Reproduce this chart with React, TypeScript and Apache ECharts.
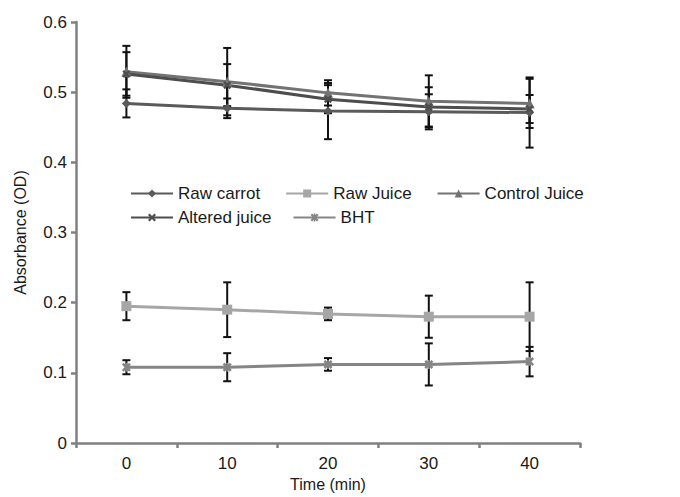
import React, { useEffect, useRef } from "react";
import * as echarts from "echarts";

const categories = ["0", "10", "20", "30", "40"];
const seriesNames = ["Raw carrot", "Raw Juice", "Control Juice", "Altered juice", "BHT"];
const rawCarrot = [0.484, 0.477, 0.473, 0.472, 0.471];
const rawJuice = [0.195, 0.19, 0.184, 0.18, 0.18];
const controlJuice = [0.529, 0.515, 0.499, 0.487, 0.484];
const alteredJuice = [0.526, 0.51, 0.49, 0.479, 0.476];
const bht = [0.108, 0.108, 0.112, 0.112, 0.116];
const rawCarrotErr = [0.02, 0.014, 0.04, 0.025, 0.05];
const rawJuiceErr = [0.02, 0.039, 0.009, 0.03, 0.049];
const controlJuiceErr = [0.037, 0.048, 0.018, 0.037, 0.035];
const alteredJuiceErr = [0.031, 0.03, 0.02, 0.028, 0.02];
const bhtErr = [0.01, 0.02, 0.009, 0.03, 0.021];
const yTicks = { min: 0, max: 0.6, interval: 0.1 };

const colors = ["#5a5a5a", "#a6a6a6", "#737373", "#4d4d4d", "#858585"];
const symbols = [
  "diamond",
  "rect",
  "triangle",
  "path://M2,0L5,3L8,0L10,2L7,5L10,8L8,10L5,7L2,10L0,8L3,5L0,2Z",
  "path://M2,0L5,3L8,0L10,2L7,5L10,8L8,10L5,7L2,10L0,8L3,5L0,2Z M4,0H6V10H4Z",
];
const symbolSizes = [9, 10, 10, 8, 9];

export default function App() {
  const ref = useRef<HTMLDivElement>(null);
  useEffect(() => {
    if (!ref.current) return;
    const chart = echarts.init(ref.current, undefined, { renderer: "svg" });
    const values = [rawCarrot, rawJuice, controlJuice, alteredJuice, bht];
    const errs = [rawCarrotErr, rawJuiceErr, controlJuiceErr, alteredJuiceErr, bhtErr];
    const font = "'Liberation Sans', Arial, sans-serif";
    const fs = 17;

    const errorSeries = values.map((vals, si) => ({
      type: "custom",
      name: seriesNames[si] + " err",
      z: 1,
      silent: true,
      data: vals.map((v, i) => [i, v - errs[si][i], v + errs[si][i]]),
      renderItem: (params: any, api: any) => {
        const x = api.value(0);
        const lo = api.coord([x, api.value(1)]);
        const hi = api.coord([x, api.value(2)]);
        const w = 4;
        const style = { stroke: "#111", lineWidth: 2 };
        return {
          type: "group",
          children: [
            { type: "line", shape: { x1: lo[0], y1: lo[1], x2: hi[0], y2: hi[1] }, style },
            { type: "line", shape: { x1: lo[0] - w, y1: lo[1], x2: lo[0] + w, y2: lo[1] }, style },
            { type: "line", shape: { x1: hi[0] - w, y1: hi[1], x2: hi[0] + w, y2: hi[1] }, style },
          ],
        };
      },
    }));

    const lineSeries = values.map((vals, si) => ({
      type: "line",
      name: seriesNames[si],
      data: vals,
      z: 3,
      symbol: symbols[si],
      symbolSize: symbolSizes[si],
      showSymbol: true,
      lineStyle: { color: colors[si], width: 3 },
      itemStyle: { color: colors[si] },
    }));

    const legendCommon = {
      left: 125,
      itemWidth: 42,
      itemHeight: 10,
      textStyle: { fontFamily: font, fontSize: fs, color: "#1a1a1a" },
    };

    chart.setOption({
      animation: false,
      grid: { left: 76, right: 100, top: 22, bottom: 54, outerBoundsMode: "none" },
      legend: [
        { ...legendCommon, top: 180, itemGap: 25, data: seriesNames.slice(0, 3) },
        { ...legendCommon, top: 204, itemGap: 21, data: seriesNames.slice(3) },
      ],
      xAxis: {
        type: "category",
        data: categories,
        boundaryGap: true,
        name: "Time (min)",
        nameLocation: "middle",
        nameGap: 33,
        nameTextStyle: { fontFamily: font, fontSize: fs - 1, color: "#1a1a1a" },
        axisLine: { lineStyle: { color: "#808080", width: 2.5 } },
        axisTick: { show: true, length: 5, lineStyle: { color: "#808080", width: 2.5 } },
        axisLabel: { fontFamily: font, fontSize: fs, color: "#1a1a1a", margin: 12 },
      },
      yAxis: {
        type: "value",
        min: yTicks.min,
        max: yTicks.max,
        interval: yTicks.interval,
        name: "Absorbance (OD)",
        nameLocation: "middle",
        nameGap: 48,
        nameTextStyle: { fontFamily: font, fontSize: fs - 1, color: "#1a1a1a" },
        axisLine: { show: true, lineStyle: { color: "#808080", width: 2.5 } },
        axisTick: { show: true, length: 5, lineStyle: { color: "#808080", width: 2.5 } },
        splitLine: { show: false },
        axisLabel: { fontFamily: font, fontSize: fs, color: "#1a1a1a", margin: 9 },
      },
      series: [...errorSeries, ...lineSeries],
    });
    return () => chart.dispose();
  }, []);
  return (
    <div
      ref={ref}
      style={{ position: "absolute", left: 0, top: 0, width: 680, height: 497 }}
    />
  );
}
